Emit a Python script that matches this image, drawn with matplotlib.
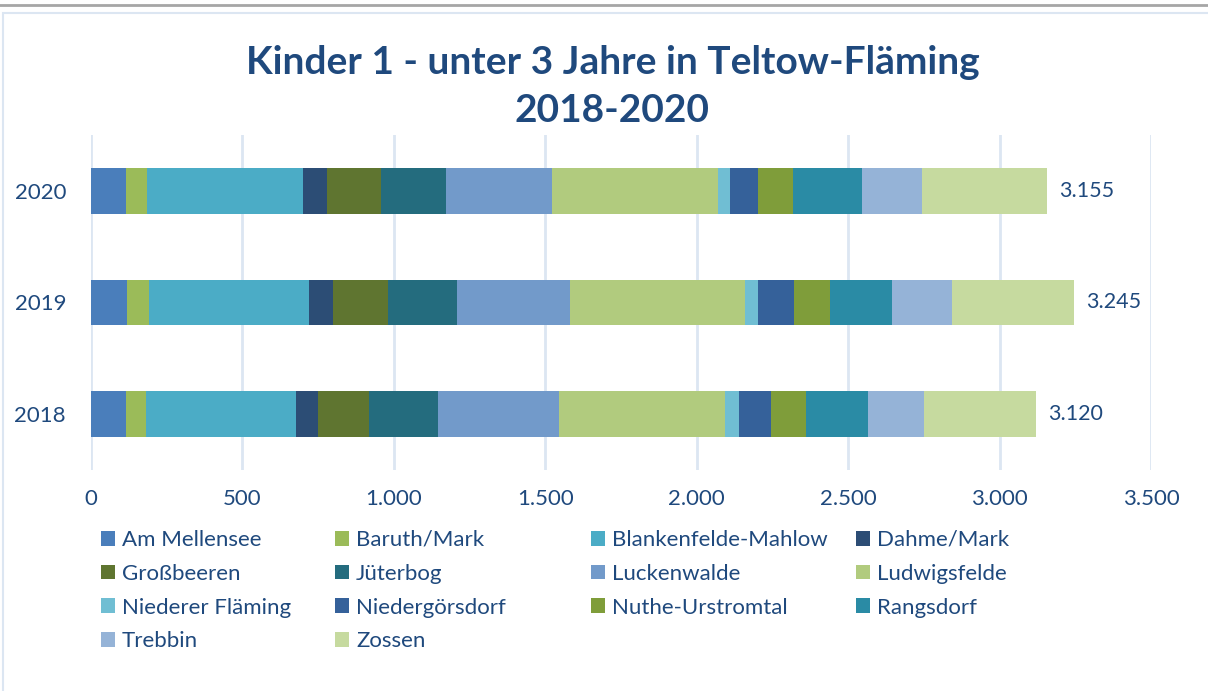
import matplotlib
matplotlib.use("Agg")
import matplotlib.pyplot as plt
from matplotlib.patches import Rectangle
from matplotlib.lines import Line2D
import numpy as np

years = ["2018", "2019", "2020"]
gemeinden = ["Am Mellensee", "Baruth/Mark", "Blankenfelde-Mahlow", "Dahme/Mark",
             "Großbeeren", "Jüterbog", "Luckenwalde", "Ludwigsfelde",
             "Niederer Fläming", "Niedergörsdorf", "Nuthe-Urstromtal", "Rangsdorf",
             "Trebbin", "Zossen"]
# values per Gemeinde for 2018, 2019, 2020
am_mellensee = [116, 119, 116]
baruth = [66, 72, 69]
blankenfelde = [495, 528, 515]
dahme = [73, 80, 79]
grossbeeren = [167, 182, 177]
jueterbog = [229, 228, 216]
luckenwalde = [399, 373, 350]
ludwigsfelde = [548, 578, 549]
niederer_flaeming = [46, 44, 39]
niedergoersdorf = [106, 116, 93]
nuthe = [116, 121, 116]
rangsdorf = [205, 205, 228]
trebbin = [184, 198, 198]
zossen = [370, 401, 410]
totals = [3120, 3245, 3155]

series = [am_mellensee, baruth, blankenfelde, dahme, grossbeeren, jueterbog,
          luckenwalde, ludwigsfelde, niederer_flaeming, niedergoersdorf, nuthe,
          rangsdorf, trebbin, zossen]
colors = ["#4a7ebb", "#9bbb59", "#4bacc6", "#2c4d75", "#5f7530", "#246c7e",
          "#729aca", "#b1cb7e", "#70bed3", "#35619a", "#7f9d3a", "#2a8ba5",
          "#95b3d7", "#c6da9f"]

text_col = "#1f497d"
plt.rcParams['font.family'] = ['Lato', 'DejaVu Sans']

fig = plt.figure(figsize=(12.08, 6.91), dpi=100)
ax = fig.add_axes([91 / 1208, 1 - 470 / 691, 1060 / 1208, 335 / 691])

y = np.arange(len(years))
left = np.zeros(len(years))
handles = []
for name, vals, c in zip(gemeinden, series, colors):
    b = ax.barh(y, vals, left=left, height=0.41, color=c, label=name, zorder=3)
    handles.append(b)
    left += np.array(vals)

for yi, t in zip(y, totals):
    ax.text(t + 40, yi, f"{t:,}".replace(",", "."), va="center", ha="left",
            fontsize=15.5, color=text_col, zorder=4)

ax.set_xlim(0, 3500)
ax.set_ylim(-0.5, 2.5)
ax.set_yticks(y)
ax.set_yticklabels(years, fontsize=16, color=text_col)
ticks = np.arange(0, 3501, 500)
ax.set_xticks(ticks)
ax.set_xticklabels([f"{t:,}".replace(",", ".") for t in ticks], fontsize=16, color=text_col)
ax.tick_params(length=0)
ax.tick_params(axis="x", pad=14)
ax.tick_params(axis="y", pad=18)
ax.grid(axis="x", color="#dce6f2", linewidth=2, zorder=0)
for s in ax.spines.values():
    s.set_visible(False)

fig.text(0.507, 1 - 62 / 691, "Kinder 1 - unter 3 Jahre in Teltow-Fläming",
         ha="center", va="center", fontsize=28, fontweight="bold", color=text_col)
fig.text(0.507, 1 - 110 / 691, "2018-2020",
         ha="center", va="center", fontsize=28, fontweight="bold", color=text_col)

# legend filled row by row, one legend per column
col_x = [101, 335, 591, 856]
for k, cx in enumerate(col_x):
    idx = list(range(k, len(gemeinden), 4))
    fig.legend([handles[i] for i in idx], [gemeinden[i] for i in idx],
               loc="upper left", bbox_to_anchor=(cx / 1208, 1 - 530 / 691), ncol=1,
               frameon=False, fontsize=16, labelcolor=text_col, handlelength=0.65,
               handleheight=0.65, handletextpad=0.3, labelspacing=0.62,
               borderpad=0, borderaxespad=0)

fig.add_artist(Line2D([0, 1], [1 - 5 / 691, 1 - 5 / 691], color="#a6a6a6", linewidth=2))
fig.add_artist(Rectangle((3 / 1208, -0.01), 1.02, 1 - 13 / 691 + 0.01, fill=False,
                         edgecolor="#dce6f2", linewidth=1.5))

fig.savefig("out.png", dpi=100)
